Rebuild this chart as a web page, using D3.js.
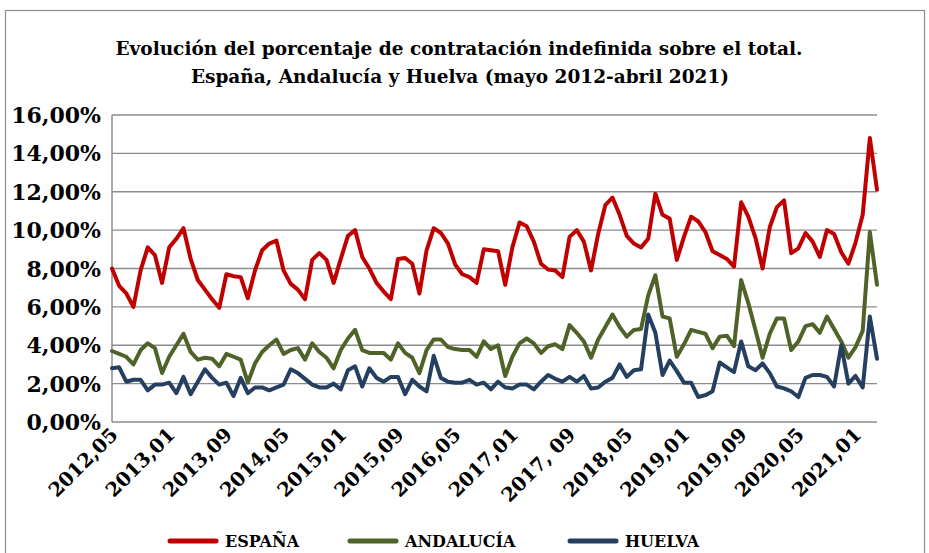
<!DOCTYPE html>
<html>
<head>
<meta charset="utf-8">
<script src="https://cdn.jsdelivr.net/npm/d3@7"></script>
<style>
  body { margin: 0; background: #fff; }
  text { font-family: "DejaVu Serif", serif; font-weight: bold; fill: #000; }
</style>
</head>
<body>
<svg width="929" height="553"></svg>
<script>
var espana = [8.0,7.1,6.7,6.0,7.9,9.1,8.7,7.25,9.1,9.55,10.1,8.5,7.4,6.9,6.4,5.95,
  7.7,7.6,7.55,6.45,7.9,8.95,9.3,9.45,7.9,7.2,6.9,6.4,8.45,8.8,8.45,7.25,
  8.5,9.7,10.0,8.6,8.0,7.25,6.8,6.4,8.5,8.55,8.25,6.7,8.95,10.1,9.85,9.3,
  8.2,7.7,7.55,7.25,9.0,8.95,8.9,7.15,9.1,10.4,10.2,9.4,8.25,7.95,7.9,7.55,
  9.65,10.0,9.4,7.9,9.8,11.3,11.7,10.8,9.7,9.3,9.1,9.55,11.9,10.8,10.6,8.45,
  9.65,10.7,10.45,9.9,8.9,8.7,8.5,8.1,11.45,10.7,9.6,8.0,10.15,11.2,11.55,8.8,
  9.05,9.85,9.4,8.6,10.0,9.8,8.85,8.25,9.35,10.8,14.8,12.1]

var andalucia = [3.7,3.55,3.4,3.0,3.75,4.1,3.85,2.55,3.4,4.0,4.6,3.65,3.25,3.35,3.3,2.9,
  3.55,3.4,3.25,2.05,3.05,3.65,4.0,4.3,3.55,3.75,3.85,3.25,4.1,3.65,3.35,2.8,
  3.75,4.35,4.8,3.75,3.6,3.6,3.6,3.25,4.1,3.6,3.35,2.55,3.75,4.3,4.3,3.9,
  3.8,3.75,3.75,3.4,4.2,3.8,4.0,2.4,3.4,4.1,4.35,4.1,3.6,3.95,4.05,3.8,
  5.05,4.65,4.2,3.35,4.3,4.95,5.6,4.95,4.45,4.8,4.85,6.6,7.65,5.5,5.4,3.4,
  4.05,4.8,4.7,4.6,3.85,4.45,4.5,3.95,7.4,6.2,4.8,3.35,4.6,5.4,5.4,3.75,
  4.2,5.0,5.1,4.65,5.5,4.85,4.2,3.35,3.9,4.75,9.9,7.15]

var huelva = [2.8,2.85,2.1,2.2,2.2,1.65,1.95,1.95,2.05,1.5,2.35,1.45,2.1,2.75,2.3,1.95,
  2.05,1.35,2.3,1.5,1.8,1.8,1.65,1.8,1.95,2.75,2.55,2.25,1.95,1.8,1.8,2.0,
  1.7,2.7,2.9,1.85,2.8,2.3,2.1,2.35,2.35,1.45,2.2,1.85,1.6,3.45,2.3,2.1,
  2.05,2.05,2.2,1.95,2.05,1.7,2.1,1.8,1.75,1.95,1.95,1.7,2.1,2.45,2.25,2.1,
  2.35,2.1,2.4,1.75,1.8,2.1,2.3,3.0,2.35,2.7,2.75,5.6,4.65,2.45,3.2,2.65,
  2.05,2.05,1.3,1.4,1.6,3.1,2.85,2.6,4.2,2.9,2.7,3.05,2.55,1.85,1.75,1.6,
  1.3,2.3,2.45,2.45,2.35,1.85,4.0,2.0,2.4,1.8,5.5,3.3]

var tickLabels = ["2012,05","2013,01","2013,09","2014,05","2015,01","2015,09","2016,05",
  "2017,01","2017, 09","2018,05","2019,01","2019,09","2020,05","2021,01"]

var seriesNames = ["ESPAÑA","ANDALUCÍA","HUELVA"]
var seriesColors = ["#c00000","#4f6228","#243f60"]

var svg = d3.select("svg")

svg.append("rect")
  .attr("x",5.5).attr("y",10.5).attr("width",919).attr("height",600)
  .attr("fill","none").attr("stroke","#8c8c8c").attr("stroke-width",1.2)

var x = d3.scaleLinear().domain([0, espana.length-1]).range([112, 877])
var y = d3.scaleLinear().domain([0, 16]).range([422, 115])

// gridlines
svg.append("g")
  .selectAll("line")
  .data(d3.range(2, 17, 2))
  .join("line")
  .attr("x1",x(0)).attr("x2",x(espana.length-1))
  .attr("y1",d=>y(d)).attr("y2",d=>y(d))
  .attr("stroke","#8c8c8c").attr("stroke-width",1.3)

// axes lines
svg.append("line")
  .attr("x1",x(0)).attr("x2",x(0)).attr("y1",y(0)).attr("y2",y(16))
  .attr("stroke","#8c8c8c").attr("stroke-width",1.5)
svg.append("line")
  .attr("x1",x(0)).attr("x2",x(espana.length-1)).attr("y1",y(0)).attr("y2",y(0))
  .attr("stroke","#8c8c8c").attr("stroke-width",1.5)

// y labels
svg.append("g")
  .selectAll("text")
  .data(d3.range(0, 17, 2))
  .join("text")
  .attr("x",101)
  .attr("y",d=>y(d)+8)
  .attr("text-anchor","end")
  .style("font-size","22px")
  .text(d=>d.toFixed(2).replace(".",",")+"%")

// x labels
svg.append("g")
  .selectAll("text")
  .data(tickLabels)
  .join("text")
  .attr("text-anchor","end")
  .attr("transform",(d,i)=>"translate("+(x(i*8)+7)+",436) rotate(-45)")
  .style("font-size","19.5px")
  .text(d=>d)

// lines
var line = d3.line().x((d,i)=>x(i)).y(d=>y(d))
;[espana, andalucia, huelva].forEach(function(s, k){
  svg.append("path")
    .datum(s)
    .attr("d", line)
    .attr("fill","none")
    .attr("stroke", seriesColors[k])
    .attr("stroke-width",4)
    .attr("stroke-linejoin","round")
    .attr("stroke-linecap","round")
})

// title
svg.append("text")
  .attr("x",459).attr("y",55)
  .attr("text-anchor","middle")
  .style("font-size","18.5px")
  .text("Evolución del porcentaje de contratación indefinida sobre el total.")
svg.append("text")
  .attr("x",460).attr("y",83)
  .attr("text-anchor","middle")
  .style("font-size","18.5px")
  .text("España, Andalucía y Huelva (mayo 2012-abril 2021)")

// legend
var legX = [170, 350, 570]
seriesNames.forEach(function(n, k){
  svg.append("line")
    .attr("x1",legX[k]).attr("x2",legX[k]+46)
    .attr("y1",541).attr("y2",541)
    .attr("stroke",seriesColors[k]).attr("stroke-width",5)
    .attr("stroke-linecap","round")
  svg.append("text")
    .attr("x",legX[k]+55).attr("y",547)
    .style("font-size","16px")
    .text(n)
})
</script>
</body>
</html>
